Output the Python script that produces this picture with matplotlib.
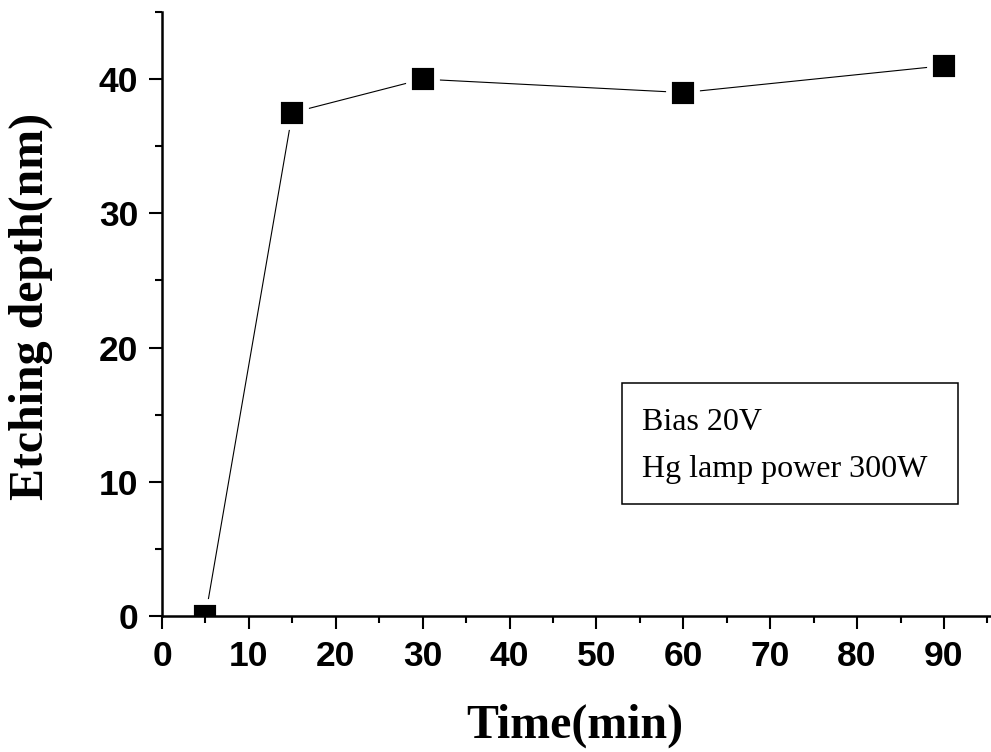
import matplotlib
matplotlib.use('Agg')
import matplotlib.pyplot as plt
from matplotlib.patches import Rectangle
from matplotlib.ticker import MultipleLocator

# Data
time_min = [5, 15, 30, 60, 90]
depth_nm = [0, 37.5, 40, 39, 41]

x_ticks = [0, 10, 20, 30, 40, 50, 60, 70, 80, 90]
y_ticks = [0, 10, 20, 30, 40]
note_lines = ['Bias 20V', 'Hg lamp power 300W']

fig = plt.figure(figsize=(9.91, 7.52), dpi=100)
ax = fig.add_axes([0.1635, 0.1809, 0.8355, 0.8031])

# line + square markers, white edge gives the gap where the line meets the marker
ax.plot(time_min, depth_nm, color='black', linewidth=0.8,
        marker='s', markersize=20, markerfacecolor='black',
        markeredgecolor='white', markeredgewidth=4.2)

ax.set_xlim(0, 95.3)
ax.set_ylim(0, 45)
ax.set_xticks(x_ticks)
ax.set_yticks(y_ticks)
ax.xaxis.set_minor_locator(MultipleLocator(5))
ax.yaxis.set_minor_locator(MultipleLocator(5))

for s in ['top', 'right']:
    ax.spines[s].set_visible(False)
for s in ['left', 'bottom']:
    ax.spines[s].set_linewidth(1.8)
    ax.spines[s].set_zorder(3)

ax.tick_params(which='major', direction='out', length=9.5, width=1.5)
ax.tick_params(which='minor', direction='out', length=5, width=1.5)
ax.tick_params(axis='x', which='major', pad=8)
ax.tick_params(axis='y', which='major', pad=7.5)

for lab in ax.get_xticklabels() + ax.get_yticklabels():
    lab.set_fontfamily('Liberation Sans')
    lab.set_fontweight('bold')
    lab.set_fontsize(25.5)

# text box
ax.add_patch(Rectangle((0.5556, 0.185), 0.4054, 0.201, transform=ax.transAxes,
                       fill=False, edgecolor='black', linewidth=1.1, clip_on=False))
ax.text(0.580, 0.308, note_lines[0], transform=ax.transAxes, va='baseline', ha='left',
        fontfamily='Liberation Serif', fontsize=23)
ax.text(0.580, 0.230, note_lines[1], transform=ax.transAxes, va='baseline', ha='left',
        fontfamily='Liberation Serif', fontsize=23)

# axis labels
fig.text(0.580, 0.0186, 'Time(min)', ha='center', va='baseline',
         fontfamily='Liberation Serif', fontweight='bold', fontsize=34.5)
fig.text(0.031, 0.592, 'Etching depth(nm)', ha='center', va='center', rotation=90,
         fontfamily='Liberation Serif', fontweight='bold', fontsize=34.5)

plt.savefig('out.png', dpi=100)
